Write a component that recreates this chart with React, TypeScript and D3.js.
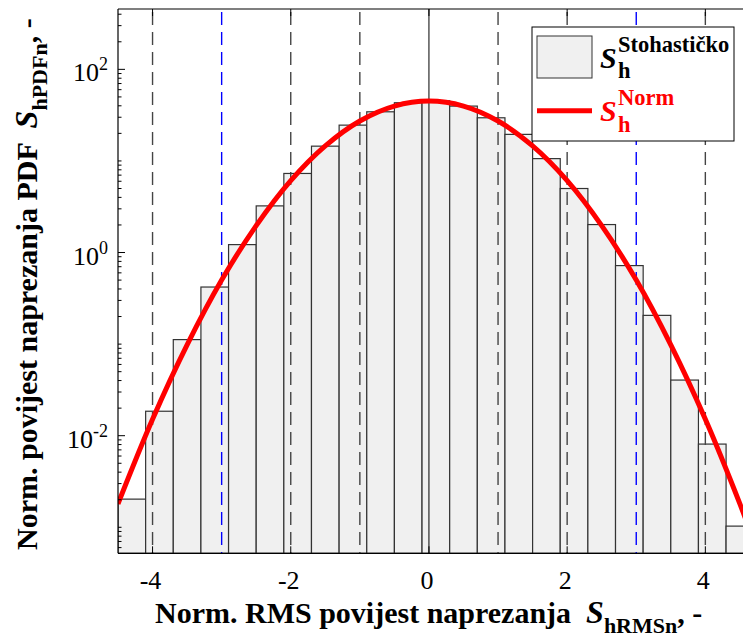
import * as d3 from "d3";

// histogram bins (left edges), width 0.4
const binStarts = [-4.5, -4.1, -3.7, -3.3, -2.9, -2.5, -2.1, -1.7, -1.3, -0.9, -0.5, -0.1, 0.3, 0.7, 1.1, 1.5, 1.9, 2.3, 2.7, 3.1, 3.5, 3.9, 4.3];
const binWidth = 0.4;
const pdfValues = [0.00203, 0.0185, 0.112, 0.42, 1.22, 3.23, 7.3, 14.5, 24.6, 34.4, 43.2, 45.4, 39.7, 29.6, 19.5, 10.6, 5.0, 2.02, 0.72, 0.206, 0.0405, 0.0081, 0.00103];

// fitted normal curve
const normX = [-4.5, -4, -3.5, -3, -2.5, -2, -1.5, -1, -0.5, 0, 0.5, 1, 1.5, 2, 2.5, 3, 3.5, 4, 4.5, 4.7];
const normY = [0.0018, 0.0151, 0.098, 0.5, 1.97, 6.1, 14.6, 27.3, 39.7, 45, 39.7, 27.3, 14.6, 6.1, 1.97, 0.5, 0.098, 0.0151, 0.0018, 0.00071];

const xTicks = [-4, -2, 0, 2, 4];
const yTickExps = [-2, 0, 2];
const greyLines = [-4, -2, -1, 1, 2, 4];
const blueLines = [-3, 3];

const W = 743;
const H = 644;
const left = 118;
const top = 9;
const bottom = 553.3;
const font = "Liberation Serif";

export default function App() {
  const x = d3.scaleLinear().domain([-4.5, 4.7]).range([left, left + 9.2 * 69.1]);
  const y = d3.scaleLog().domain([5.2e-4, 456]).range([bottom, top]);

  const line = d3
    .line<number>()
    .x((d, i) => x(normX[i]))
    .y((d) => y(d))
    .curve(d3.curveCatmullRom);

  // log minor ticks
  const minor: number[] = [];
  for (let e = -4; e <= 2; e++) {
    for (let k = 1; k < 10; k++) {
      const v = k * Math.pow(10, e);
      if (v >= 5.2e-4 && v <= 456) minor.push(v);
    }
  }

  return (
    <svg width={W} height={H} style={{ position: "absolute", left: 0, top: 0, background: "#fff", fontFamily: font }}>
      <defs>
        <clipPath id="plot">
          <rect x={left} y={top} width={W - left} height={bottom - top} />
        </clipPath>
      </defs>
      <g clipPath="url(#plot)">
        {binStarts.map((b, i) => (
          <rect
            key={i}
            x={x(b)}
            y={y(pdfValues[i])}
            width={x(b + binWidth) - x(b)}
            height={bottom - y(pdfValues[i])}
            fill="#f0f0f0"
            stroke="#333"
            strokeWidth={1.2}
          />
        ))}
        {greyLines.map((v) => (
          <line key={v} x1={x(v)} x2={x(v)} y1={top} y2={bottom} stroke="#444" strokeWidth={1.4} strokeDasharray="13,7" strokeDashoffset={-3} />
        ))}
        {blueLines.map((v) => (
          <line key={v} x1={x(v)} x2={x(v)} y1={top} y2={bottom} stroke="#0000ff" strokeWidth={1.4} strokeDasharray="13,7" strokeDashoffset={-3} />
        ))}
        <line x1={x(0)} x2={x(0)} y1={top} y2={bottom} stroke="#000" strokeWidth={1} />
        <path d={line(normY) || ""} fill="none" stroke="#ff0000" strokeWidth={5} />
      </g>

      {/* frame */}
      <line x1={left} x2={W} y1={top} y2={top} stroke="#000" strokeWidth={1.2} />
      <line x1={left} x2={W} y1={bottom} y2={bottom} stroke="#000" strokeWidth={1.2} />
      <line x1={left} x2={left} y1={top} y2={bottom} stroke="#000" strokeWidth={1.2} />

      {/* y ticks */}
      {minor.map((v, i) => {
        const isMajor = Math.abs(Math.log10(v) - Math.round(Math.log10(v))) < 1e-9 && Math.round(Math.log10(v)) % 2 === 0;
        return <line key={i} x1={left} x2={left + (isMajor ? 7 : 3.5)} y1={y(v)} y2={y(v)} stroke="#000" strokeWidth={1} />;
      })}
      {yTickExps.map((e) => (
        <text key={e} x={108} y={y(Math.pow(10, e)) + 12} textAnchor="end" fontSize={26}>
          10
          <tspan dy={-11} fontSize={18}>{e}</tspan>
        </text>
      ))}

      {/* x ticks */}
      {xTicks.map((v) => (
        <g key={v}>
          <line x1={x(v)} x2={x(v)} y1={bottom} y2={bottom - 7} stroke="#000" />
          <line x1={x(v)} x2={x(v)} y1={top} y2={top + 7} stroke="#000" />
          <text x={x(v) - 2} y={589} textAnchor="middle" fontSize={26}>
            {v}
          </text>
        </g>
      ))}

      {/* axis labels */}
      <text x={155} y={623} fontSize={30} fontWeight="bold" xmlSpace="preserve">
        {"Norm. RMS povijest naprezanja  "}
        <tspan fontStyle="italic" fontSize={32}>S</tspan>
        <tspan dy={10} fontSize={22}>hRMSn</tspan>
        <tspan dy={-10}>, -</tspan>
      </text>
      <text transform="translate(37,550) rotate(-90)" fontSize={30} fontWeight="bold" xmlSpace="preserve">
        {"Norm. povijest naprezanja PDF  "}
        <tspan fontStyle="italic" fontSize={32}>S</tspan>
        <tspan dy={10} fontSize={22}>hPDFn</tspan>
        <tspan dy={-10}>, -</tspan>
      </text>

      {/* legend */}
      <rect x={532} y={27} width={202} height={114} fill="#fff" stroke="#000" strokeWidth={1} />
      <rect x={537} y={36} width={55} height={42} fill="#f0f0f0" stroke="#333" strokeWidth={1} />
      <text x={600} y={68} fontSize={30} fontWeight="bold" fontStyle="italic">S</text>
      <text x={618} y={52} fontSize={22.5} fontWeight="bold">Stohastičko</text>
      <text x={618} y={78} fontSize={22.5} fontWeight="bold">h</text>
      <line x1={537} x2={592} y1={110.7} y2={110.7} stroke="#ff0000" strokeWidth={5} />
      <text x={600} y={121} fontSize={30} fontWeight="bold" fontStyle="italic" fill="#ff0000">S</text>
      <text x={618} y={105} fontSize={22.5} fontWeight="bold" fill="#ff0000">Norm</text>
      <text x={618} y={132} fontSize={22.5} fontWeight="bold" fill="#ff0000">h</text>
    </svg>
  );
}
